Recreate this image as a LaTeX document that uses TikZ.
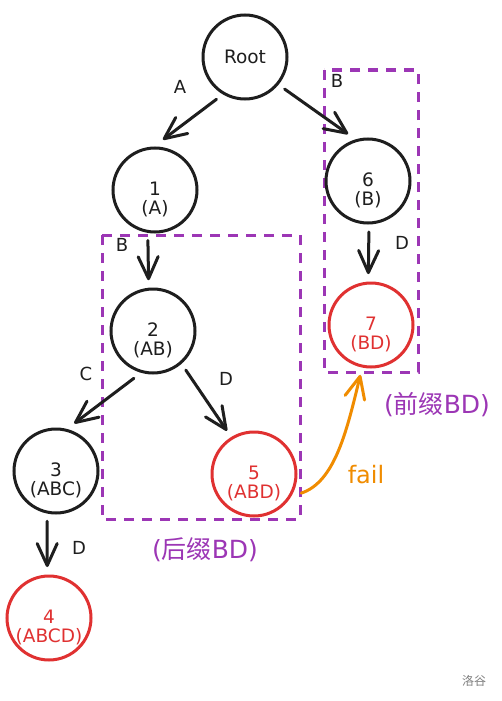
\documentclass[tikz,border=0pt]{standalone}
\usepackage{fontspec}
\setmainfont{DejaVu Sans}
\newfontfamily\cjk{Noto Sans CJK SC}
\usepackage{tikz}
\usetikzlibrary{arrows.meta,positioning}
\definecolor{inkblack}{RGB}{30,30,30}
\definecolor{nodered}{RGB}{224,49,49}
\definecolor{boxpurple}{RGB}{156,54,181}
\definecolor{failorange}{RGB}{240,140,0}

\begin{document}
\begin{tikzpicture}[
  x=1pt, y=-1pt,
  state/.style={circle, draw=inkblack, line width=3pt, minimum size=84pt, inner sep=0pt, outer sep=9pt},
  hit/.style={state, draw=nodered},
  tag/.style={align=center, font=\fontsize{18.5}{19}\selectfont, text=inkblack, yshift=-9pt},
  hittag/.style={tag, text=nodered},
  edge/.style={-{Straight Barb[length=22pt,width=20pt,round]}, line width=3pt, color=inkblack, line cap=round},
  failedge/.style={edge, color=failorange},
  lbl/.style={font=\fontsize{18}{20}\selectfont, text=inkblack},
  box/.style={draw=boxpurple, line width=3pt, dash pattern=on 10pt off 8pt},
  note/.style={font=\fontsize{25}{28}\selectfont, text=boxpurple}
]
  \path[fill=white, use as bounding box] (0,0) rectangle (502,701);

  % prefix / suffix boxes
  \draw[box] (102,235) rectangle (300,519);
  \draw[box] (324,70) rectangle (418,372);

  \node[state, font=\fontsize{18.5}{20}\selectfont, text=inkblack] (root) at (245,57) {Root};
  \node[state, label={[tag]center:{1\\(A)}}] (n1) at (155,190) {};
  \node[state, label={[tag]center:{2\\(AB)}}] (n2) at (153,331) {};
  \node[state, label={[tag]center:{3\\(ABC)}}] (n3) at (56,471) {};
  \node[hit, label={[hittag]center:{4\\(ABCD)}}] (n4) at (49,618) {};
  \node[hit, label={[hittag]center:{5\\(ABD)}}] (n5) at (254,474) {};
  \node[state, label={[tag]center:{6\\(B)}}] (n6) at (368,181) {};
  \node[hit, label={[hittag]center:{7\\(BD)}}] (n7) at (371,325) {};

  \draw[edge] (root.-124) -- (n1.81);
  \draw[edge] (root.-39) -- (n6.113);
  \draw[edge] (n1.-98) -- (n2.95);
  \draw[edge] (n2.-112) -- (n3.69);
  \draw[edge] (n2.-50) -- (n5.122);
  \draw[edge] (n3.-100) -- (n4.92);
  \draw[edge] (n6.-89) -- (n7.93);
  \draw[failedge] (n5.-22) .. controls (335,482) and (347,430) .. (n7.-102);

  \node[lbl] at (180,87) {A};
  \node[lbl] at (337,81) {B};
  \node[lbl] at (122,245) {B};
  \node[lbl] at (86,374) {C};
  \node[lbl] at (226,379) {D};
  \node[lbl] at (402,243) {D};
  \node[lbl] at (79,548) {D};
  \node[font=\fontsize{24}{26}\selectfont, text=failorange] at (366,475) {fail};

  \node[note] at (437,405) {({\cjk 前缀}BD)};
  \node[note] at (205,550) {({\cjk 后缀}BD)};
  \node[font=\fontsize{12}{14}\selectfont, text=gray] at (474,681) {{\cjk 洛谷}};
\end{tikzpicture}
\end{document}
